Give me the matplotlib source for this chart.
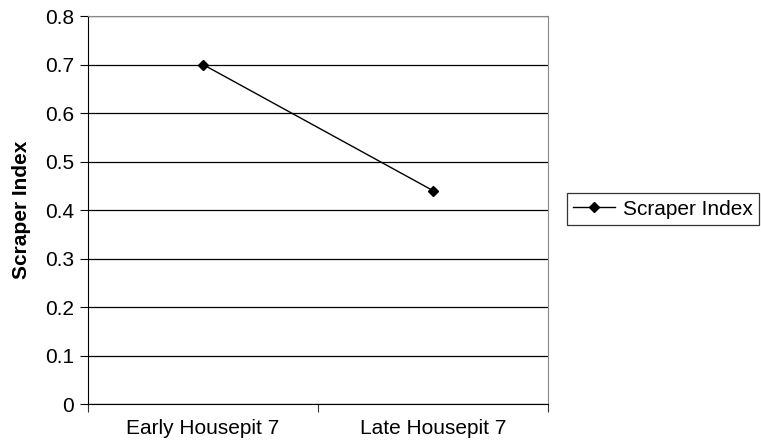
import matplotlib.pyplot as plt
from matplotlib.lines import Line2D

plt.rcParams['font.family'] = ['Liberation Sans', 'DejaVu Sans']

categories = ['Early Housepit 7', 'Late Housepit 7']
scraper_index = [0.70, 0.44]
y_ticks = [0, 0.1, 0.2, 0.3, 0.4, 0.5, 0.6, 0.7, 0.8]

fig = plt.figure(figsize=(7.61, 4.41), dpi=100)
ax = fig.add_axes([0.1156, 0.0839, 0.6045, 0.8798])

x = list(range(len(categories)))
ax.plot(x, scraper_index, color='black', lw=1, marker='D', ms=5,
        label='Scraper Index')

ax.set_xlim(-0.5, len(categories) - 0.5)
ax.set_ylim(0, 0.8)
ax.set_yticks(y_ticks)
ax.set_yticklabels(['0' if v == 0 else f'{v:.1f}' for v in y_ticks], fontsize=15)
ax.yaxis.grid(True, color='black', lw=0.9)
ax.set_axisbelow(True)

ax.set_xticks([-0.5, 0.5, 1.5])
ax.set_xticklabels([])
ax.set_xticks(x, minor=True)
ax.set_xticklabels(categories, minor=True, fontsize=15)
ax.tick_params(axis='x', which='minor', length=0, pad=11)
ax.tick_params(axis='x', which='major', length=6, color='#333333')
ax.tick_params(axis='y', length=6, pad=4)

ax.spines['top'].set_color('#888888')
ax.spines['right'].set_color('#888888')
ax.spines['left'].set_color('black')
ax.spines['bottom'].set_color('black')

ax.set_ylabel('Scraper Index', fontsize=15, fontweight='bold', labelpad=10)

handle = Line2D([], [], color='black', lw=1, marker='D', ms=5)
leg = fig.legend([handle], ['Scraper Index'], loc='center left',
                 bbox_to_anchor=(0.745, 0.526), borderaxespad=0, fontsize=15,
                 frameon=True, fancybox=False, edgecolor='black',
                 handlelength=2.0, handletextpad=0.4, borderpad=0.3)
leg.get_frame().set_linewidth(0.9)

fig.savefig('out.png', dpi=100)
